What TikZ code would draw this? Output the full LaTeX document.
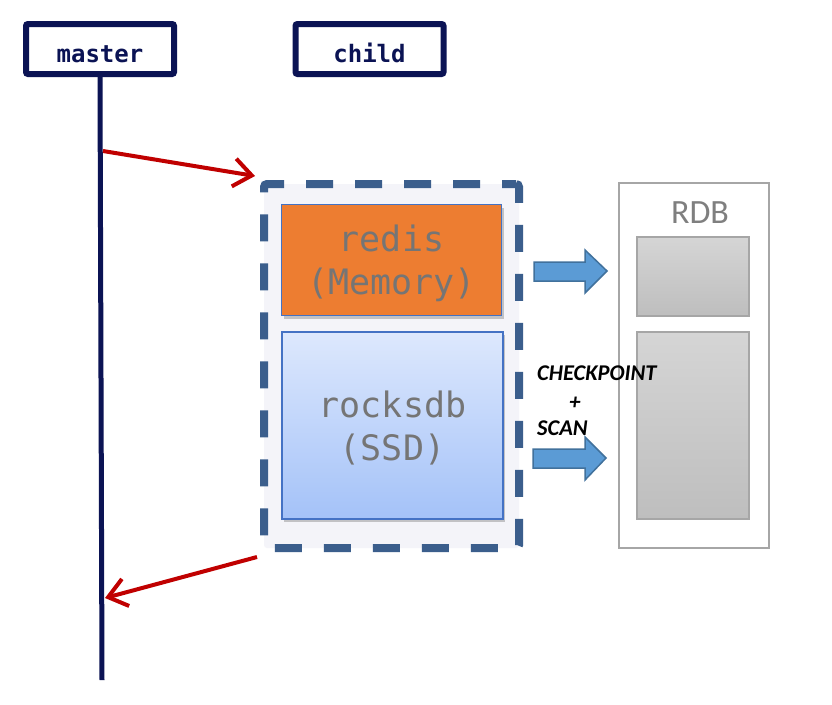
\documentclass[tikz,border=0pt]{standalone}
\usepackage{fontspec}
\newfontfamily\monofont{DejaVu Sans Mono}
\newfontfamily\califont{Carlito}
\usetikzlibrary{arrows.meta,shadows}
\definecolor{navy}{HTML}{0B1354}
\definecolor{redarr}{HTML}{C00000}
\definecolor{dashblue}{HTML}{3B5E8C}
\definecolor{contfill}{HTML}{F4F4F9}
\definecolor{redisorange}{HTML}{ED7D31}
\definecolor{boxborder}{HTML}{4472C4}
\definecolor{graytext}{HTML}{757575}
\definecolor{arrblue}{HTML}{5B9BD5}
\definecolor{arrborder}{HTML}{41719C}
\definecolor{rdbborder}{HTML}{A6A6A6}
\definecolor{rdbtext}{HTML}{7F7F7F}
\definecolor{ssdtop}{HTML}{DDE8FD}
\definecolor{ssdbot}{HTML}{A4C2F8}
\definecolor{greytop}{HTML}{D5D5D5}
\definecolor{greybot}{HTML}{BEBEBE}
\begin{document}
\begin{tikzpicture}[x=1pt,y=-1pt,
  hdr/.style={draw=navy, line width=6pt, rounded corners=2pt, minimum width=148pt,
    minimum height=50pt, inner sep=0pt, text=navy, text height=26pt, text depth=0pt,
    font=\monofont\bfseries\fontsize{24}{28}\selectfont},
  storebox/.style={draw=boxborder, line width=1.2pt, inner sep=0pt,
    drop shadow={shadow xshift=2pt, shadow yshift=-3pt, opacity=0.35, fill=black!60}},
  storetext/.style={inner sep=0pt, align=center, text=graytext,
    font=\monofont\fontsize{35}{43}\selectfont},
  rdbinner/.style={draw=rdbborder, line width=1.5pt, inner sep=0pt,
    top color=greytop, bottom color=greybot},
  redarrow/.style={draw=redarr, line width=4pt, -{Straight Barb[length=18pt,width=28pt]}},
  blockarrow/.style={fill=arrblue, draw=arrborder, line width=1.5pt, line join=miter},
  cplabel/.style={inner sep=0pt, font=\califont\bfseries\itshape\fontsize{22.5}{26}\selectfont}
]
\useasboundingbox[fill=white] (0,0) rectangle (832,704);

% headers
\node[hdr] (master) at (100,49) {master};
\node[hdr] (child) at (369.5,49) {child};

% lifeline
\coordinate (mend) at (102,680);
\draw[navy, line width=5pt] (master.south) -- (mend);

% container
\node[draw=dashblue, line width=8pt, dash pattern=on 27pt off 22pt, dash phase=13pt,
  fill=contfill, rounded corners=3pt, minimum width=255pt, minimum height=364pt,
  inner sep=0pt] (cont) at (391.5,366) {};

% redis / rocksdb
\node[storebox, fill=redisorange, minimum width=220pt, minimum height=111pt]
  (redis) at (391.5,260) {};
\node[storetext] (redislabel) at ([yshift=-3pt]redis.center) {redis\\(Memory)};
\node[storebox, top color=ssdtop, bottom color=ssdbot, minimum width=221pt, minimum height=187pt]
  (rocks) at (392.5,425.5) {};
\node[storetext] (rockslabel) at ([yshift=-3pt]rocks.center) {rocksdb\\(SSD)};

% RDB
\node[draw=rdbborder, line width=1.5pt, minimum width=150pt, minimum height=365pt,
  inner sep=0pt] (rdb) at (694,365.5) {};
\node[inner sep=0pt, text=rdbtext, font=\califont\fontsize{34}{40}\selectfont]
  (rdblabel) at (700,213) {RDB};
\node[rdbinner, minimum width=112pt, minimum height=79pt] (rdbA) at (693,276.5) {};
\node[rdbinner, minimum width=112pt, minimum height=187pt] (rdbB) at (693,425.5) {};

% block arrows
\draw[blockarrow] (534,262) -- (585,262) -- (585,250) -- (607,271) -- (585,293)
  -- (585,281) -- (534,281) -- cycle;
\draw[blockarrow] (533,449) -- (585,449) -- (585,437) -- (606,458) -- (585,480)
  -- (585,468) -- (533,468) -- cycle;

% labels
\node[cplabel, anchor=west] (cp) at (537,373) {CHECKPOINT};
\node[cplabel] (plus) at (575,403) {+};
\node[cplabel, anchor=west] (scan) at (537,428) {SCAN};

% red arrows
\coordinate (s1) at (103,151);
\coordinate (e1) at (255,176);
\coordinate (s2) at (257,557);
\coordinate (e2) at (105,598);
\draw[redarrow] (s1) -- (e1);
\draw[redarrow] (s2) -- (e2);
\end{tikzpicture}
\end{document}
